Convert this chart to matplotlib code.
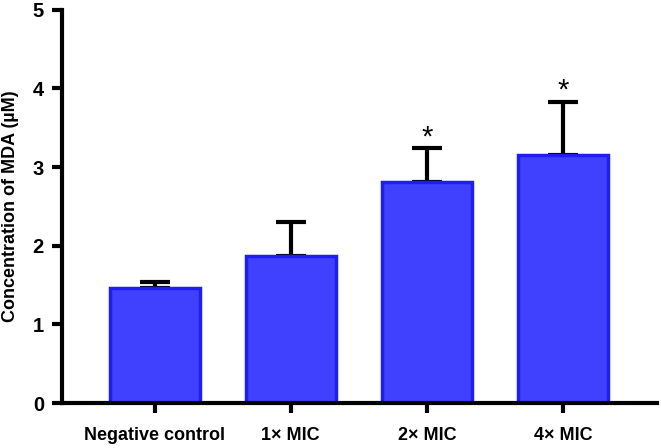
import matplotlib
matplotlib.use("Agg")
import matplotlib.pyplot as plt

categories = ["Negative control", "1\u00d7 MIC", "2\u00d7 MIC", "4\u00d7 MIC"]
means = [1.46, 1.87, 2.81, 3.16]
errors = [0.08, 0.43, 0.43, 0.67]
significance = ["", "", "*", "*"]
yticks = [0, 1, 2, 3, 4, 5]

plt.rcParams['font.family'] = ['Liberation Sans', 'DejaVu Sans']

fig = plt.figure(figsize=(6.61, 4.48), dpi=100)
ax = fig.add_axes([0.0938, 0.1004, 0.9002, 0.8776])

x = list(range(len(categories)))
ax.bar(x, means, width=0.66, color='#4040FF', edgecolor='#1E1EF0', linewidth=2.5, zorder=2)
ax.errorbar(x, means, yerr=[[0]*len(errors), errors], fmt='none', ecolor='black',
            elinewidth=3, capsize=11, capthick=3, zorder=1)

for xi, m, e, s in zip(x, means, errors, significance):
    if s:
        ax.text(xi, m + e + 0.14, s, ha='center', va='center', fontsize=21, fontweight='normal')

ax.set_xlim(-0.68, 3.69)
ax.set_ylim(0, 5)
ax.set_yticks(yticks)
ax.set_yticklabels([str(t) for t in yticks], fontsize=14.5, fontweight='bold')
ax.set_xticks(x)
ax.set_xticklabels(categories, fontsize=13, fontweight='bold')
ax.set_ylabel("Concentration of MDA (\u00b5M)", fontsize=13, fontweight='bold', labelpad=10)

for sp in ['top', 'right']:
    ax.spines[sp].set_visible(False)
for sp in ['left', 'bottom']:
    ax.spines[sp].set_linewidth(3)
ax.tick_params(axis='both', width=3, length=7)
ax.tick_params(axis='x', pad=10)
ax.tick_params(axis='y', pad=6)

fig.savefig("out.png", dpi=100)
